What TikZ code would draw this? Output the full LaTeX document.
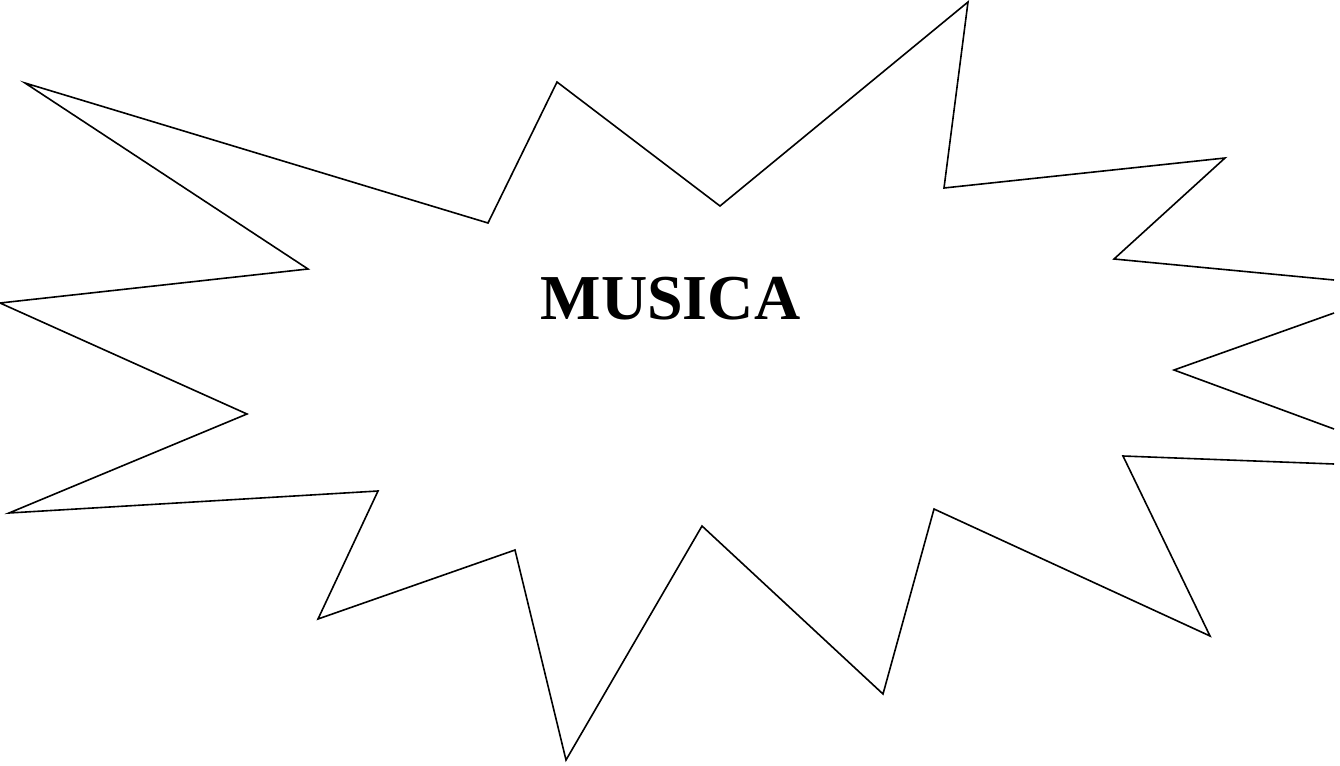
\documentclass[tikz,border=0pt]{standalone}
\usepackage{fontspec}
\setmainfont{Liberation Serif}
\begin{document}
\begin{tikzpicture}[x=1pt,y=-1pt,outline/.style={draw=black,line width=1.6pt,line join=miter}]
\useasboundingbox (0,0) rectangle (1340,765);
\draw[outline] (1334,464) -- (1123,456) -- (1210,636) -- (934,509) -- (883,694) -- (702,526) -- (566,760) -- (515,550) -- (318,619) -- (378,491) -- (9,513) -- (247,414) -- (0,303) -- (308,269) -- (25,83) -- (488,223) -- (557,82) -- (720,206) -- (968,2) -- (944,188) -- (1225,158) -- (1114,259) -- (1334,280);
\draw[outline] (1334,313) -- (1174,370) -- (1334,429);
\node[font=\fontsize{64}{72}\selectfont\bfseries,inner sep=0pt,anchor=base] (title) at (670.5,319) {MUSICA};
\end{tikzpicture}
\end{document}
